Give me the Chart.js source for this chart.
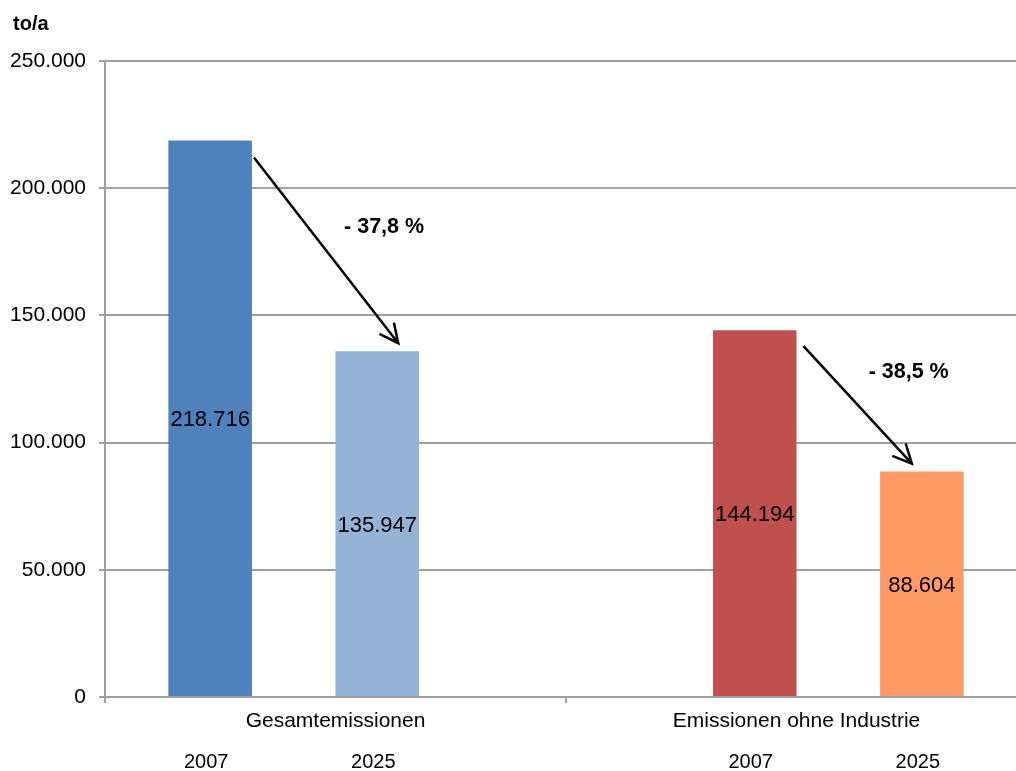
<!DOCTYPE html>
<html>
<head>
<meta charset="utf-8">
<script src="https://cdn.jsdelivr.net/npm/chart.js@4/dist/chart.umd.min.js"></script>
<style>
  html, body { margin: 0; padding: 0; background: #fff; overflow: hidden; }
  #chart { display: block; }
</style>
</head>
<body>
<canvas id="chart" width="1040" height="771"></canvas>
<script>
// data
const categories = ['Gesamtemissionen', 'Emissionen ohne Industrie']
const gesamt2007 = [218716, null]
const ohneIndustrie2007 = [null, 144194]
const gesamt2025 = [135947, null]
const ohneIndustrie2025 = [null, 88604]
const yearLabels = ['2007', '2007', '2025', '2025']
const changeLabels = ['- 37,8 %', '- 38,5 %']
const yMax = 250000
const yStep = 50000
const unitLabel = 'to/a'

const barColors = ['#4F81BD', '#C0504D', '#95B3D7', '#FF9966']
const gridColor = '#A0A0A0'
const fontFamily = '"Liberation Sans", Arial, sans-serif'

// German number format: 218716 -> 218.716
const fmt = v => String(Math.round(v)).replace(/\B(?=(\d{3})+(?!\d))/g, '.')

// arrows: from dataset -> to dataset, at category index; offsets are styling only
const arrows = [
  { from: 0, to: 2, index: 0, sx: 2, sy: 17, ex: 21, ey: -8, tx: 58, ty: -23 },
  { from: 1, to: 3, index: 1, sx: 7, sy: 16, ex: -10, ey: -8, tx: 51, ty: -33 }
]

const annotations = {
  id: 'annotations',
  afterDatasetsDraw(chart) {
    const ctx = chart.ctx
    ctx.save()

    // unit label top left
    ctx.fillStyle = '#000'
    ctx.font = 'bold 20px ' + fontFamily
    ctx.textAlign = 'left'
    ctx.textBaseline = 'alphabetic'
    ctx.fillText(unitLabel, 13, 30)

    // value labels centred in bars + year labels below axis
    chart.data.datasets.forEach((ds, di) => {
      const meta = chart.getDatasetMeta(di)
      ds.data.forEach((v, i) => {
        if (v === null) return
        const bar = meta.data[i]
        ctx.textAlign = 'center'
        ctx.textBaseline = 'middle'
        ctx.font = '22px ' + fontFamily
        ctx.fillText(fmt(v), bar.x, (bar.y + bar.base) / 2 + 2)
        ctx.font = '20px ' + fontFamily
        ctx.fillText(yearLabels[di], bar.x - 4, 762)
      })
    })

    // arrows with percentage change
    arrows.forEach((a, k) => {
      const b1 = chart.getDatasetMeta(a.from).data[a.index]
      const b2 = chart.getDatasetMeta(a.to).data[a.index]
      const x1 = b1.x + b1.width / 2 + a.sx
      const y1 = b1.y + a.sy
      const x2 = b2.x + a.ex
      const y2 = b2.y + a.ey
      ctx.strokeStyle = '#000'
      ctx.lineWidth = 2.5
      ctx.beginPath()
      ctx.moveTo(x1, y1)
      ctx.lineTo(x2, y2)
      const ang = Math.atan2(y2 - y1, x2 - x1)
      const head = 21
      const spread = Math.PI / 7
      ctx.moveTo(x2 - head * Math.cos(ang - spread), y2 - head * Math.sin(ang - spread))
      ctx.lineTo(x2, y2)
      ctx.lineTo(x2 - head * Math.cos(ang + spread), y2 - head * Math.sin(ang + spread))
      ctx.stroke()

      ctx.font = 'bold 21.5px ' + fontFamily
      ctx.textAlign = 'center'
      ctx.textBaseline = 'middle'
      ctx.fillText(changeLabels[k], (x1 + x2) / 2 + a.tx, (y1 + y2) / 2 + a.ty)
    })

    ctx.restore()
  }
}

new Chart(document.getElementById('chart'), {
  type: 'bar',
  data: {
    labels: categories,
    datasets: [
      { data: gesamt2007, backgroundColor: barColors[0] },
      { data: ohneIndustrie2007, backgroundColor: barColors[1] },
      { data: gesamt2025, backgroundColor: barColors[2] },
      { data: ohneIndustrie2025, backgroundColor: barColors[3] }
    ]
  },
  options: {
    responsive: false,
    animation: false,
    devicePixelRatio: 1,
    categoryPercentage: 0.725,
    barPercentage: 1.0,
    layout: { padding: { left: 0, top: 61, right: 13, bottom: 0 } },
    plugins: {
      legend: { display: false },
      tooltip: { enabled: false }
    },
    scales: {
      x: {
        afterFit: scale => { scale.height = 74 },
        grid: {
          offset: true,
          drawOnChartArea: false,
          drawTicks: true,
          tickLength: 6,
          color: gridColor,
          lineWidth: 2
        },
        border: { color: gridColor, width: 2 },
        ticks: {
          color: '#000',
          padding: 6,
          maxRotation: 0,
          font: { family: fontFamily, size: 21 }
        }
      },
      y: {
        min: 0,
        max: yMax,
        afterFit: scale => { scale.width = 105 },
        grid: {
          color: gridColor,
          lineWidth: 2,
          drawTicks: true,
          tickLength: 6
        },
        border: { color: gridColor, width: 2 },
        ticks: {
          stepSize: yStep,
          color: '#000',
          padding: 13,
          font: { family: fontFamily, size: 21 },
          callback: v => fmt(v)
        }
      }
    }
  },
  plugins: [annotations]
})
</script>
</body>
</html>
